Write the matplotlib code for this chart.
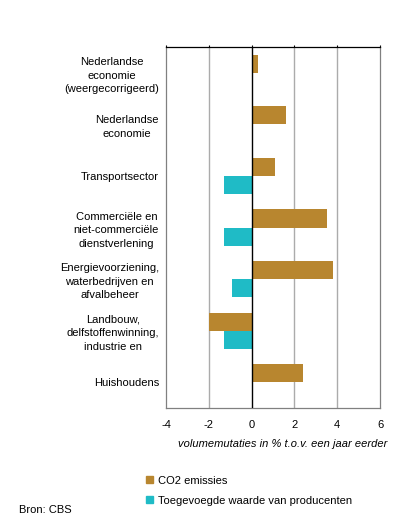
import numpy as np
import matplotlib.pyplot as plt
from matplotlib.patches import Patch

plt.rcParams['font.family'] = ['Liberation Sans', 'DejaVu Sans']
plt.rcParams['font.size'] = 8

# data (volumemutaties in %)
categorieen = [
    "Nederlandse\neconomie\n(weergecorrigeerd)",
    "Nederlandse\neconomie",
    "Transportsector",
    "Commerciële en\nniet-commerciële\ndienstverlening",
    "Energievoorziening,\nwaterbedrijven en\nafvalbeheer",
    "Landbouw,\ndelfstoffenwinning,\nindustrie en",
    "Huishoudens",
]
co2 = [0.3, 1.6, 1.1, 3.5, 3.8, -2.0, 2.4]
toegevoegd = [np.nan, np.nan, -1.3, -1.3, -0.9, -1.3, np.nan]
xticks = [-4, -2, 0, 2, 4, 6]

kleur_co2 = "#B8862F"
kleur_tw = "#1FBBC6"

fig = plt.figure(figsize=(3.96, 5.22), dpi=100)
ax = fig.add_axes([166/396, 1-408/522, 214/396, 361/522])

y = np.arange(len(categorieen))
h = 0.35
ax.barh(y - h/2, co2, height=h, color=kleur_co2, zorder=3)
ax.barh(y + h/2, toegevoegd, height=h, color=kleur_tw, zorder=3)

ax.set_xlim(-4, 6)
ax.set_ylim(len(categorieen) - 0.5, -0.5)
ax.set_xticks(xticks)
ax.set_xticklabels([str(t) for t in xticks])
ax.set_yticks(y)
ax.set_yticklabels(categorieen, ha='right', multialignment='center')
for lbl in ax.get_yticklabels():
    lbl.set_linespacing(1.45)
ax.tick_params(axis='y', length=0, pad=5)
ax.tick_params(axis='x', top=True, bottom=False, labelbottom=True,
               length=1.5, width=0.8, pad=7.5, color='black')

for t in [-2, 2, 4]:
    ax.axvline(t, color='#ababab', lw=1.0, zorder=1)
ax.axvline(0, color='black', lw=1.0, zorder=4)

for s in ['left', 'right', 'bottom']:
    ax.spines[s].set_color('#808080')
    ax.spines[s].set_linewidth(0.9)
ax.spines['top'].set_color('black')
ax.spines['top'].set_linewidth(0.9)

fig.text(387/396, 1-444/522, "volumemutaties in % t.o.v. een jaar eerder",
         ha='right', va='center', style='italic')

handles = [Patch(color=kleur_co2, label="CO2 emissies"),
           Patch(color=kleur_tw, label="Toegevoegde waarde van producenten")]
fig.legend(handles=handles, loc='upper left', bbox_to_anchor=(146/396, 1-475.5/522),
           frameon=False, borderpad=0, borderaxespad=0, handlelength=0.65,
           handleheight=0.65, handletextpad=0.45, labelspacing=0.9)

fig.text(19/396, 1-510/522, "Bron: CBS", ha='left', va='center')

fig.savefig("out.png", dpi=100)
